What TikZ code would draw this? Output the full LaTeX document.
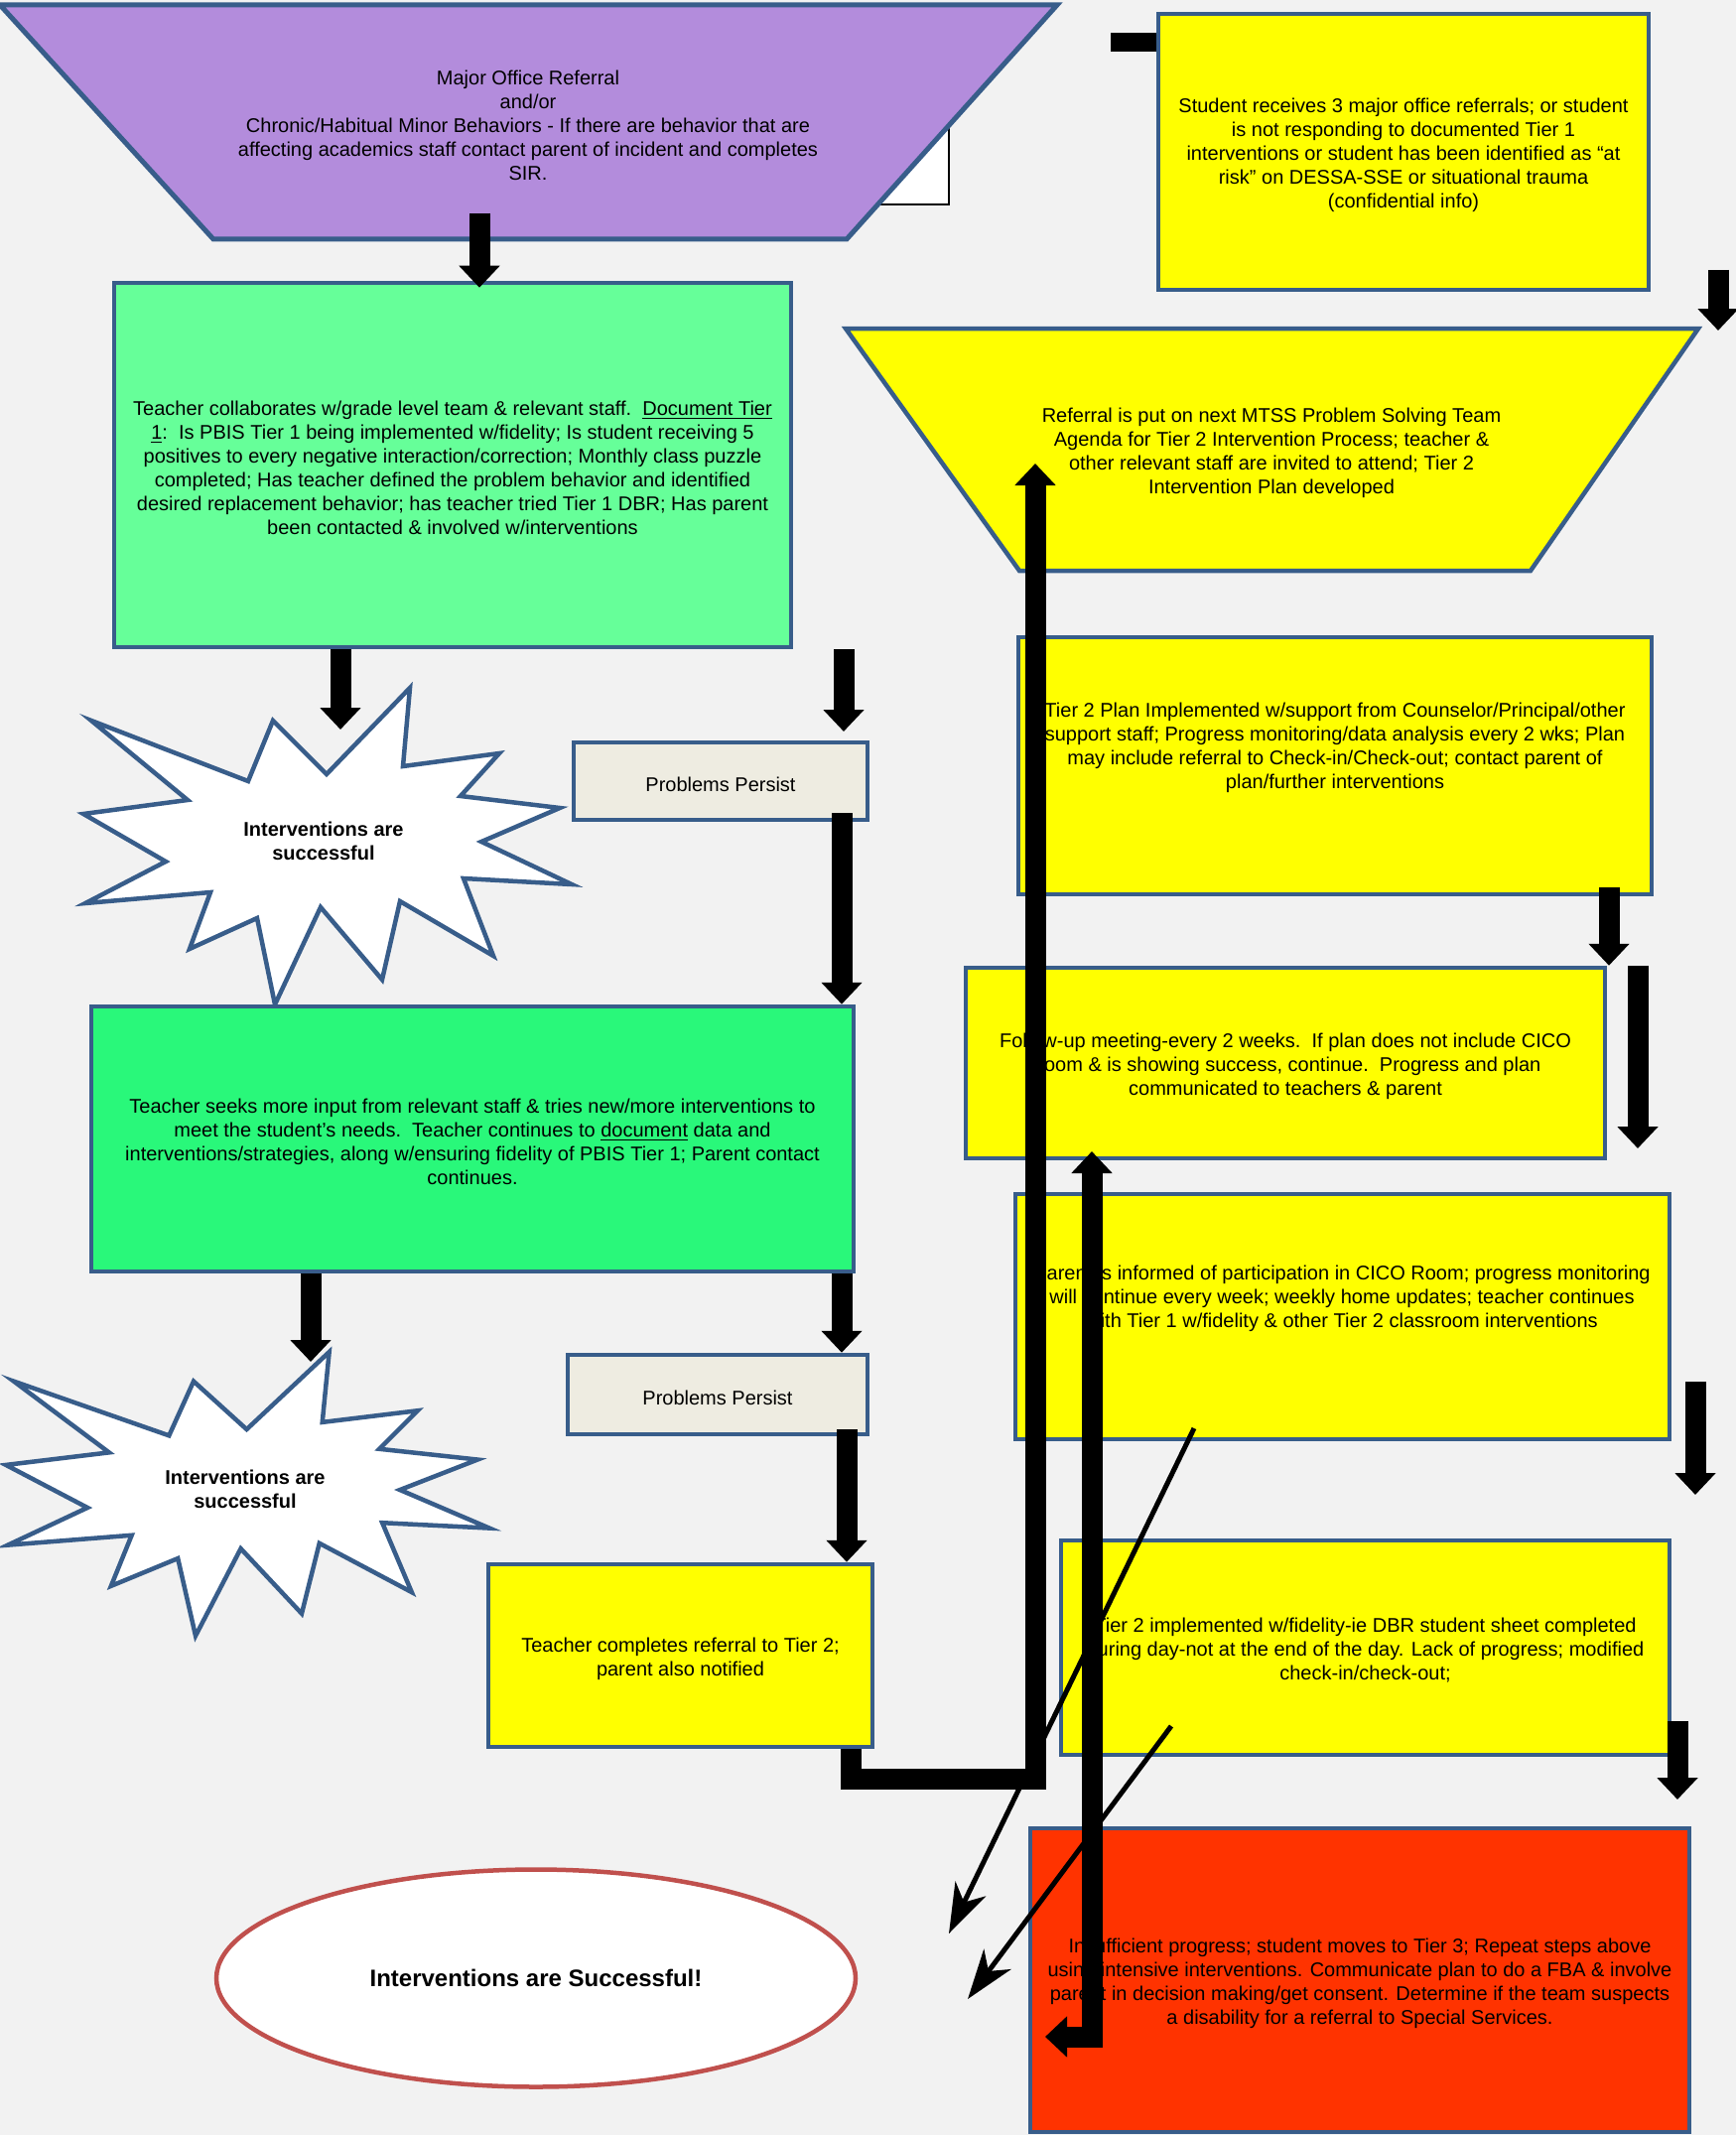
\documentclass[tikz,border=0pt]{standalone}
\usepackage{fontspec}
\setmainfont{Liberation Sans}
\usetikzlibrary{arrows.meta,shapes.geometric,fit}

\definecolor{bgray}{HTML}{F2F2F2}
\definecolor{edgeblue}{HTML}{385D8A}
\definecolor{mauve}{HTML}{B38CDC}
\definecolor{lightgreen}{HTML}{66FF99}
\definecolor{brightgreen}{HTML}{29F87A}
\definecolor{ygold}{HTML}{FFFF00}
\definecolor{tan}{HTML}{EEECE1}
\definecolor{tierred}{HTML}{FF3300}
\definecolor{ellred}{HTML}{C0504D}

\tikzset{
  flowbox/.style={draw=edgeblue, line width=2.25pt, inner sep=0pt},
  boxtext/.style={align=center, yshift=-1.5pt, font=\fontsize{10}{12}\selectfont},
  bigarrow/.style={line width=10.5pt, -{Triangle[width=20pt,length=11pt]}},
  thinarrow/.style={line width=2.5pt, -{Stealth[length=25pt,width=17pt,inset=7.5pt]}},
  burst/.style={draw=edgeblue, line width=2.25pt, fill=white}
}

\begin{document}
        \begin{tikzpicture}[x=0.5pt,y=-0.5pt]
            \useasboundingbox (0,0) rectangle (1749,2151);
            \fill[bgray] (0,0) rectangle (1749,2151);
            \def\burstpath{(413,693) -- (406,772) -- (503,759) -- (464,802) -- (564,814) -- (485,848) -- (576,891) -- (467,885) -- (497,963) -- (403,908) -- (385,987) -- (323,914) -- (277,1012) -- (259,925) -- (191,956) -- (212,899) -- (86,910) -- (167,868) -- (84,820) -- (189,806) -- (92,726) -- (250,787) -- (275,726) -- (329,780) -- cycle}
            % haut de page
            \draw[fill=white, line width=1pt] (600,100) rectangle (956,206);
            \draw[draw=edgeblue, line width=2.5pt, fill=mauve] (0,5) -- (1065,5) -- (853,241) -- (215,241) -- cycle;
            \node[boxtext] (office) at (532,123) {Major Office Referral\\and/or\\Chronic/Habitual Minor Behaviors - If there are behavior that are\\affecting academics staff contact parent of incident and completes\\SIR.};
            \coordinate (stub) at (1119,43);
            \draw[line width=9.5pt] (stub) -- (1167,43);
            \node[flowbox, fill=ygold, fit={(1167,14) (1661,292)}] (refer) {};
            \node[boxtext] (refertext) at (refer) {Student receives 3 major office referrals; or student\\is not responding to documented Tier 1\\interventions or student has been identified as “at\\risk” on DESSA-SSE or situational trauma\\(confidential info)};
            \draw[draw=edgeblue, line width=2.25pt, fill=ygold] (852,331) -- (1711,331) -- (1542,575) -- (1027,575) -- cycle;
            \node[boxtext] (agenda) at (1281,453) {Referral is put on next MTSS Problem Solving Team\\Agenda for Tier 2 Intervention Process; teacher \&\\other relevant staff are invited to attend; Tier 2\\Intervention Plan developed};
            % colonne de gauche
            \node[flowbox, fill=lightgreen, fit={(115,285) (797,652)}] (greenA) {};
            \node[boxtext] (greenAtext) at (greenA) {Teacher collaborates w/grade level team \& relevant staff.\ \ \underline{Document Tier}\\\underline{1}:\ \ Is PBIS Tier 1 being implemented w/fidelity; Is student receiving 5\\positives to every negative interaction/correction; Monthly class puzzle\\completed; Has teacher defined the problem behavior and identified\\desired replacement behavior; has teacher tried Tier 1 DBR; Has parent\\been contacted \& involved w/interventions};
            \draw[burst] \burstpath;
            \node[boxtext, font=\bfseries\fontsize{10}{12}\selectfont] (burstA) at (326,844) {Interventions are\\successful};
            \node[flowbox, fill=tan, fit={(578,748) (874,826)}] (persistA) {};
            \node[boxtext] (persistAtext) at (persistA) {Problems Persist};
            \node[flowbox, fill=brightgreen, fit={(92,1014) (860,1281)}] (greenB) {};
            \node[boxtext] (greenBtext) at (greenB) {Teacher seeks more input from relevant staff \& tries new/more interventions to\\meet the student’s needs.\ \ Teacher continues to \underline{document} data and\\interventions/strategies, along w/ensuring fidelity of PBIS Tier 1; Parent contact\\continues.};
            \draw[burst, cm={0.99,0,0,0.8966,(-77.2,740.7)}] \burstpath;%meme etoile, plus petite
            \node[boxtext, font=\bfseries\fontsize{10}{12}\selectfont] (burstB) at (247,1497) {Interventions are\\successful};
            \node[flowbox, fill=tan, fit={(572,1365) (874,1445)}] (persistB) {};
            \node[boxtext] (persistBtext) at (persistB) {Problems Persist};
            \node[flowbox, fill=ygold, fit={(492,1576) (879,1760)}] (tworef) {};
            \node[boxtext] (tworeftext) at (tworef) {Teacher completes referral to Tier 2;\\parent also notified};
            \node[ellipse, draw=ellred, line width=2.25pt, fill=white, minimum width=322pt, minimum height=109.5pt, inner sep=0pt, font=\bfseries\fontsize{12}{14}\selectfont] (success) at (540,1993) {Interventions are Successful!};
            % colonne de droite
            \node[flowbox, fill=ygold, fit={(1026,642) (1664,901)}] (plan) {};
            \node[boxtext] (plantext) at (1345,750) {Tier 2 Plan Implemented w/support from Counselor/Principal/other\\support staff; Progress monitoring/data analysis every 2 wks; Plan\\may include referral to Check-in/Check-out; contact parent of\\plan/further interventions};
            \node[flowbox, fill=ygold, fit={(973,975) (1617,1167)}] (followup) {};
            \node[boxtext] (followuptext) at (followup) {Follow-up meeting-every 2 weeks.\ \ If plan does not include CICO\\Room \& is showing success, continue.\ \ Progress and plan\\communicated to teachers \& parent};
            \node[flowbox, fill=ygold, fit={(1023,1203) (1682,1450)}] (cico) {};
            \node[boxtext] (cicotext) at (1352,1305) {Parent is informed of participation in CICO Room; progress monitoring\\will continue every week; weekly home updates; teacher continues\\with Tier 1 w/fidelity \& other Tier 2 classroom interventions};
            \node[flowbox, fill=ygold, fit={(1069,1552) (1682,1768)}] (fidelity) {};
            \node[boxtext] (fidelitytext) at (fidelity) {Tier 2 implemented w/fidelity-ie DBR student sheet completed\\during day-not at the end of the day. Lack of progress; modified\\check-in/check-out;};
            \node[flowbox, fill=tierred, fit={(1038,1842) (1702,2148)}] (tierthree) {};
            \node[boxtext] (tierthreetext) at (tierthree) {Insufficient progress; student moves to Tier 3; Repeat steps above\\using intensive interventions. Communicate plan to do a FBA \& involve\\parent in decision making/get consent. Determine if the team suspects\\a disability for a referral to Special Services.};
            % fleches
            \coordinate (a1) at (483,215);
            \coordinate (a2) at (343,735);
            \coordinate (a3) at (850,737);
            \coordinate (a4) at (848,819);
            \coordinate (a5) at (313,1372);
            \coordinate (a6) at (848,1281);
            \coordinate (a7) at (853,1440);
            \coordinate (bend) at (857,1792);
            \coordinate (a8) at (1043,467);
            \coordinate (a9l) at (1053,2052);
            \coordinate (a9) at (1100,1160);
            \coordinate (a10) at (1621,894);
            \coordinate (a11) at (1650,1157);
            \coordinate (a12) at (1708,1392);
            \coordinate (a12e) at (1708,1506);
            \coordinate (a13) at (1690,1734);
            \coordinate (a13e) at (1690,1813);
            \coordinate (a14) at (1731,272);
            \coordinate (a14e) at (1731,333);
            \draw[bigarrow] (a1) -- ([yshift=-3.5pt]greenA.north -| a1);
            \draw[bigarrow] (greenA.south -| a2) -- (a2);
            \draw[bigarrow] (greenA.south -| a3) -- (a3);
            \draw[bigarrow] (a4) -- (greenB.north -| a4);
            \draw[bigarrow] (greenB.south -| a5) -- (a5);
            \draw[bigarrow] (greenB.south -| a6) -- (persistB.north -| a6);
            \draw[bigarrow] (a7) -- (tworef.north -| a7);
            \draw[bigarrow] (tworef.south -| bend) -- (bend) -| (a8);
            \draw[bigarrow, {Triangle[width=20pt,length=11pt]}-{Triangle[width=20pt,length=11pt]}] (a9l) -| (a9);
            \draw[bigarrow] (a10) -- (followup.north -| a10);
            \draw[bigarrow] (followup.north -| a11) -- (a11);
            \draw[bigarrow] (a12) -- (a12e);
            \draw[bigarrow] (a13) -- (a13e);
            \draw[bigarrow] (a14) -- (a14e);
            \coordinate (d1) at (1203,1439);
            \coordinate (d1e) at (956,1948);
            \coordinate (d2) at (1180,1739);
            \coordinate (d2e) at (975,2014);
            \draw[thinarrow] (d1) -- (d1e);
            \draw[thinarrow] (d2) -- (d2e);
        \end{tikzpicture}
\end{document}
